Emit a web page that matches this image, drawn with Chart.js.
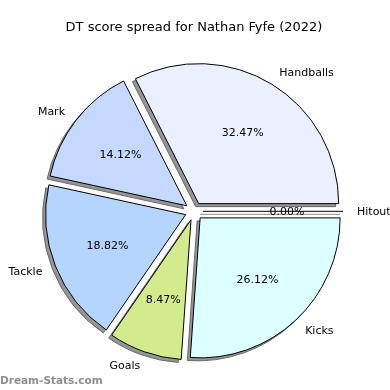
<!DOCTYPE html>
<html lang="en">
<head>
  <meta charset="UTF-8">
  <title>DT score spread</title>
  <script src="https://cdn.jsdelivr.net/npm/chart.js"></script>
  <style>
    html, body { margin: 0; padding: 0; background: #fff; }
    #wrap { width: 390px; height: 390px; }
  </style>
</head>
<body>
  <div id="wrap"><canvas id="pieChart"></canvas></div>

  <script>
    // drawn clockwise from 3 o'clock, so reversed versus the original order
    const categorias = ['Hitout', 'Kicks', 'Goals', 'Tackle', 'Mark', 'Handballs'];
    const percentuais = [0.00, 26.12, 8.47, 18.82, 14.12, 32.47];
    const cores = ['#ffffff', '#dcffff', '#d3eb8c', '#b5d5ff', '#c5d8ff', '#eaf0ff'];

    const explode = 9;     // px push-out of every slice
    const sombraDx = -3, sombraDy = 3;
    const fontLabel = '11px "DejaVu Sans"';

    // push each slice out from the centre along its middle angle
    const explodePlugin = {
      id: 'explode',
      afterDatasetUpdate(chart, args) {
        args.meta.data.forEach(arc => {
          const mid = (arc.startAngle + arc.endAngle) / 2;
          arc.x += Math.cos(mid) * explode;
          arc.y += Math.sin(mid) * explode;
        });
      }
    };

    function linhaZero(ctx, arc, cor) {
      ctx.beginPath();
      ctx.moveTo(arc.x, arc.y);
      ctx.lineTo(arc.x + Math.cos(arc.startAngle) * arc.outerRadius,
                 arc.y + Math.sin(arc.startAngle) * arc.outerRadius);
      ctx.strokeStyle = cor;
      ctx.lineWidth = 1;
      ctx.stroke();
    }

    // grey shadow under all slices (like matplotlib shadow=True)
    const shadowPlugin = {
      id: 'sombra',
      beforeDatasetDraw(chart, args) {
        const ctx = chart.ctx;
        ctx.save();
        ctx.translate(sombraDx, sombraDy);
        args.meta.data.forEach((arc, i) => {
          if (percentuais[i] === 0) {
            linhaZero(ctx, arc, '#8a8a8a');
            return;
          }
          const copia = Object.assign(Object.create(Chart.ArcElement.prototype), {
            x: arc.x, y: arc.y,
            startAngle: arc.startAngle, endAngle: arc.endAngle,
            innerRadius: arc.innerRadius, outerRadius: arc.outerRadius,
            circumference: arc.circumference,
            options: Object.assign({}, arc.options, {
              backgroundColor: '#959595',
              borderColor: '#6a6a6a'
            })
          });
          copia.draw(ctx);
        });
        ctx.restore();
      },
      afterDatasetDraw(chart, args) {
        args.meta.data.forEach((arc, i) => {
          if (percentuais[i] === 0) linhaZero(chart.ctx, arc, '#000');
        });
      }
    };

    // outside names and inside percentages
    const labelsPlugin = {
      id: 'rotulos',
      afterDatasetsDraw(chart) {
        const ctx = chart.ctx;
        const meta = chart.getDatasetMeta(0);
        ctx.save();
        ctx.font = fontLabel;
        ctx.fillStyle = '#000';
        ctx.textBaseline = 'middle';
        meta.data.forEach((arc, i) => {
          const mid = (arc.startAngle + arc.endAngle) / 2;
          const r = arc.outerRadius;
          const cx = Math.cos(mid), cy = Math.sin(mid);
          ctx.textAlign = cx >= 0 ? 'left' : 'right';
          ctx.fillText(categorias[i], arc.x + cx * r * 1.1, arc.y + cy * r * 1.1 + 1);
          ctx.textAlign = 'center';
          ctx.fillText(percentuais[i].toFixed(2) + '%', arc.x + cx * r * 0.6, arc.y + cy * r * 0.6 + 1);
        });
        ctx.restore();
      }
    };

    const watermarkPlugin = {
      id: 'marca',
      afterDraw(chart) {
        const ctx = chart.ctx;
        ctx.save();
        ctx.font = 'bold 10.5px "DejaVu Sans"';
        ctx.fillStyle = '#8e8e8e';
        ctx.textAlign = 'left';
        ctx.textBaseline = 'alphabetic';
        ctx.fillText('Dream-Stats.com', 0, 384);
        ctx.restore();
      }
    };

    const ctx = document.getElementById('pieChart').getContext('2d');
    new Chart(ctx, {
      type: 'pie',
      data: {
        labels: categorias,
        datasets: [{
          data: percentuais,
          backgroundColor: cores,
          borderColor: '#000',
          borderWidth: 1,
          radius: 140
        }]
      },
      options: {
        responsive: true,
        maintainAspectRatio: false,
        animation: false,
        rotation: 90,
        layout: { padding: { left: 0, right: 2, top: 0, bottom: 3 } },
        plugins: {
          legend: { display: false },
          tooltip: { enabled: false },
          title: {
            display: true,
            text: 'DT score spread for Nathan Fyfe (2022)',
            color: '#000',
            font: { family: 'DejaVu Sans', size: 13, weight: 'normal' },
            padding: { top: 20, bottom: 0 }
          }
        }
      },
      plugins: [explodePlugin, shadowPlugin, labelsPlugin, watermarkPlugin]
    });
  </script>
</body>
</html>
